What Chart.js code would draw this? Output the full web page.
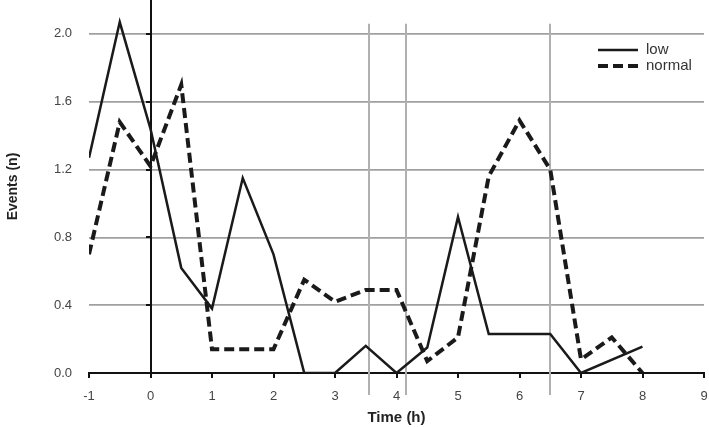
<!DOCTYPE html>
<html>
<head>
<meta charset="utf-8">
<script src="https://cdn.jsdelivr.net/npm/chart.js@4.4.1/dist/chart.umd.min.js"></script>
<style>
  html, body { margin: 0; padding: 0; background: #fff; }
  #wrap { width: 709px; height: 427px; }
</style>
</head>
<body>
<div id="wrap"><canvas id="chart"></canvas></div>
<script>
// time points (h) and event counts
var timeLow = [-1, -0.5, 0, 0.5, 1, 1.5, 2, 2.5, 3, 3.5, 4, 4.5, 5, 5.5, 6, 6.5, 7, 8];
var eventsLow = [1.27, 2.07, 1.44, 0.62, 0.38, 1.15, 0.7, 0, 0, 0.16, 0, 0.15, 0.92, 0.23, 0.23, 0.23, 0, 0.155];

var timeNormal = [-1, -0.5, 0, 0.5, 1, 1.5, 2, 2.5, 3, 3.5, 4, 4.5, 5, 5.5, 6, 6.5, 7, 7.5, 8];
var eventsNormal = [0.7, 1.48, 1.22, 1.7, 0.14, 0.14, 0.14, 0.55, 0.42, 0.49, 0.49, 0.07, 0.21, 1.16, 1.49, 1.2, 0.08, 0.21, 0];

var seriesLabels = ['low', 'normal'];
var greyMarkers = [3.55, 4.15, 6.5];   // grey vertical lines
var zeroMarker = 0;                    // black vertical line
var yTicks = [0, 0.4, 0.8, 1.2, 1.6, 2.0];

function toPoints(xs, ys) {
    var pts = [];
    for (var i = 0; i < xs.length; i++) pts.push({ x: xs[i], y: ys[i] });
    return pts;
}

// vertical marker lines, drawn under the series
var markerLines = {
    id: 'markerLines',
    beforeDatasetsDraw: function(chart) {
        var ctx = chart.ctx, xs = chart.scales.x, ys = chart.scales.y;
        var area = chart.chartArea;
        ctx.save();
        ctx.strokeStyle = '#b0b0b0';
        ctx.lineWidth = 2;
        greyMarkers.forEach(function(v) {
            var px = Math.round(xs.getPixelForValue(v));
            ctx.beginPath();
            ctx.moveTo(px, ys.getPixelForValue(2.06));
            ctx.lineTo(px, area.bottom + 22);
            ctx.stroke();
        });
        // black line at t = 0 with small ticks on its left
        var p0 = Math.round(xs.getPixelForValue(zeroMarker));
        ctx.strokeStyle = '#111';
        ctx.lineWidth = 2;
        ctx.beginPath();
        ctx.moveTo(p0, area.top);
        ctx.lineTo(p0, area.bottom);
        ctx.stroke();
        yTicks.forEach(function(v) {
            var py = Math.round(ys.getPixelForValue(v));
            ctx.beginPath();
            ctx.moveTo(p0 - 5, py);
            ctx.lineTo(p0, py);
            ctx.stroke();
        });
        ctx.restore();
    }
};

// legend inside the plot, top right
var insideLegend = {
    id: 'insideLegend',
    afterDraw: function(chart) {
        var ctx = chart.ctx, area = chart.chartArea;
        ctx.save();
        ctx.font = '15px "Liberation Sans", Arial, sans-serif';
        ctx.textBaseline = 'middle';
        chart.data.datasets.forEach(function(ds, i) {
            var y = 50 + i * 16;
            var x0 = area.right - 106;
            ctx.strokeStyle = ds.borderColor;
            ctx.lineWidth = ds.borderWidth;
            ctx.setLineDash(ds.borderDash || []);
            ctx.beginPath();
            ctx.moveTo(x0, y);
            ctx.lineTo(x0 + 40, y);
            ctx.stroke();
            ctx.setLineDash([]);
            ctx.fillStyle = '#333';
            ctx.fillText(ds.label, x0 + 48, y);
        });
        ctx.restore();
    }
};

new Chart(document.getElementById('chart'), {
    type: 'line',
    data: {
        datasets: [
            {
                label: seriesLabels[0],
                data: toPoints(timeLow, eventsLow),
                borderColor: '#1a1a1a',
                borderWidth: 2.5,
                pointRadius: 0,
                tension: 0,
                fill: false
            },
            {
                label: seriesLabels[1],
                data: toPoints(timeNormal, eventsNormal),
                borderColor: '#1a1a1a',
                borderWidth: 4,
                borderDash: [10, 5],
                pointRadius: 0,
                tension: 0,
                fill: false
            }
        ]
    },
    options: {
        responsive: true,
        maintainAspectRatio: false,
        animation: false,
        layout: { padding: { left: 0, right: 5, top: 0, bottom: 0 } },
        plugins: {
            legend: { display: false },
            tooltip: { enabled: false }
        },
        scales: {
            x: {
                type: 'linear',
                min: -1,
                max: 9,
                afterFit: function(scale) {
                    scale.height = 54;
                    scale.paddingLeft = 0;
                    scale.paddingRight = 0;
                },
                ticks: {
                    stepSize: 1,
                    padding: 11,
                    color: '#444',
                    font: { family: '"Liberation Sans", Arial, sans-serif', size: 13 }
                },
                grid: {
                    drawOnChartArea: false,
                    drawTicks: true,
                    tickLength: 5,
                    color: '#111',
                    lineWidth: 2
                },
                border: { display: true, color: '#111', width: 2 },
                title: {
                    display: true,
                    text: 'Time (h)',
                    color: '#222',
                    padding: { top: 0, bottom: 0 },
                    font: { family: '"Liberation Sans", Arial, sans-serif', size: 15, weight: 'bold' }
                }
            },
            y: {
                min: 0,
                max: 2.2,
                afterBuildTicks: function(scale) {
                    scale.ticks = yTicks.map(function(v) { return { value: v }; });
                },
                afterFit: function(scale) {
                    scale.width = 89;
                    scale.paddingTop = 0;
                    scale.paddingBottom = 0;
                },
                ticks: {
                    padding: 17,
                    color: '#444',
                    font: { family: '"Liberation Sans", Arial, sans-serif', size: 13 },
                    callback: function(v) { return Number(v).toFixed(1); }
                },
                grid: {
                    drawTicks: false,
                    color: '#a0a0a0',
                    lineWidth: 1.7
                },
                border: { display: false },
                title: {
                    display: true,
                    text: 'Events (n)',
                    color: '#222',
                    padding: { top: 5, bottom: 0 },
                    font: { family: '"Liberation Sans", Arial, sans-serif', size: 14, weight: 'bold' }
                }
            }
        }
    },
    plugins: [markerLines, insideLegend]
});
</script>
</body>
</html>
